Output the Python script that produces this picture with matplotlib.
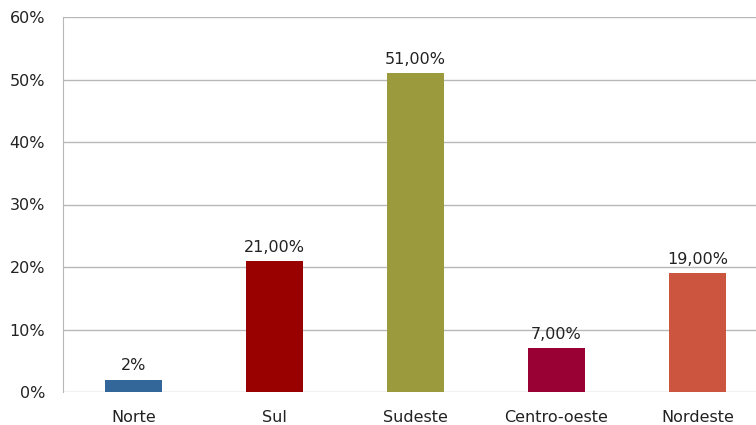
import matplotlib.pyplot as plt
from matplotlib.ticker import FuncFormatter

regioes = ['Norte', 'Sul', 'Sudeste', 'Centro-oeste', 'Nordeste']
valores = [2, 21, 51, 7, 19]
rotulos = ['2%', '21,00%', '51,00%', '7,00%', '19,00%']
cores = ['#336699', '#990000', '#9b9b3d', '#990033', '#cc5540']

plt.rcParams['font.family'] = ['DejaVu Sans']

fig = plt.figure(figsize=(7.56, 4.25), dpi=100)
ax = fig.add_axes([63 / 756, 33 / 425, 705 / 756, 375 / 425])

xs = range(len(regioes))
bars = ax.bar(xs, valores, width=0.4, color=cores, zorder=3)
for b, lab in zip(bars, rotulos):
    ax.text(b.get_x() + b.get_width() / 2, b.get_height() + 1.0, lab,
            ha='center', va='bottom', fontsize=11.5, color='#222222')

ax.set_xlim(-0.5, 4.5)
ax.set_ylim(0, 60)
ax.set_yticks(range(0, 61, 10))
ax.yaxis.set_major_formatter(FuncFormatter(lambda v, p: f'{int(v)}%'))
ax.set_xticks(list(xs))
ax.set_xticklabels(regioes)
ax.tick_params(axis='both', length=0, labelsize=11.5, colors='#222222')
ax.tick_params(axis='y', pad=13)
ax.tick_params(axis='x', pad=13)
ax.grid(axis='y', color='#b8b8b8', linewidth=1, zorder=0)
for s in ['top', 'right', 'bottom']:
    ax.spines[s].set_visible(False)
ax.spines['left'].set_color('#b8b8b8')

plt.savefig('out.png', dpi=100)
